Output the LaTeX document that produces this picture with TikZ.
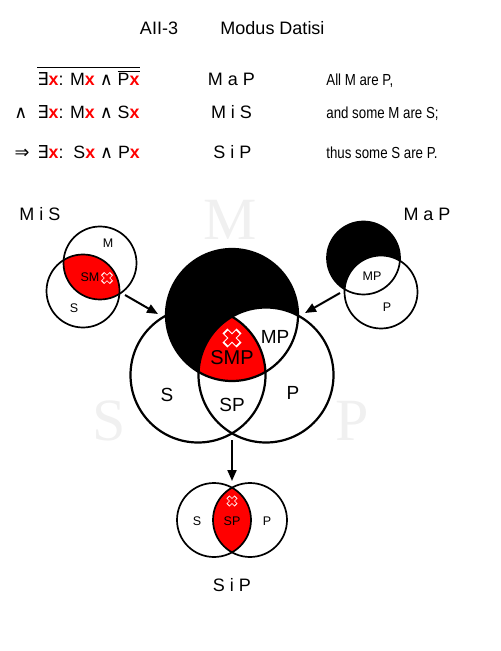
\documentclass[tikz,border=0pt]{standalone}
\usepackage{fontspec}
\setmainfont{Liberation Sans}
\newfontfamily\symfont{DejaVu Sans}
\newfontfamily\ghostfont{Liberation Serif}
\newfontfamily\narrowfont[FakeStretch=0.83]{Liberation Sans}
\usetikzlibrary{arrows.meta}
\pgfdeclarelayer{filllayer}
\pgfdeclarelayer{edgelayer}
\pgfdeclarelayer{nodelayer}
\pgfsetlayers{filllayer,main,edgelayer,nodelayer}
\newcommand{\rx}{\textcolor{red}{\textbf{x}}}
\tikzset{
	pics/crossmark/.style={code={
		\draw [white, line width=#1*0.37pt] (-0.74*#1,-0.74*#1) -- (0.74*#1,0.74*#1) (-0.74*#1,0.74*#1) -- (0.74*#1,-0.74*#1);
		\draw [red, line width=#1*0.25pt] (-0.6*#1,-0.6*#1) -- (0.6*#1,0.6*#1) (-0.6*#1,0.6*#1) -- (0.6*#1,-0.6*#1);
	}}
}

\begin{document}
\begin{tikzpicture}[x=0.5pt, y=-0.5pt, inner sep=0pt,
	venn/.style={draw, line width=0.85pt},
	bigvenn/.style={draw, line width=1.1pt},
	arrowline/.style={line width=1pt, -{Triangle[length=5.5pt,width=4.5pt]}},
	ghost/.style={font={\ghostfont\fontsize{30}{30}\selectfont}, text=black!6},
	head/.style={font={\fontsize{9}{11}\selectfont}},
	formula/.style={font={\fontsize{8.9}{10}\selectfont}, anchor=base west},
	sentence/.style={font={\narrowfont\fontsize{8}{10}\selectfont}, anchor=base west},
	biglabel/.style={font={\fontsize{9.5}{11}\selectfont}},
	smalllabel/.style={font={\fontsize{6.25}{8}\selectfont}}]
	\useasboundingbox (0,0) rectangle (500,651);
	\begin{pgfonlayer}{nodelayer}
		\node [] (0) at (100, 263) {};
		\node [] (1) at (83, 291) {};
		\node [] (2) at (363.5, 258) {};
		\node [] (3) at (381, 292) {};
		\node [] (4) at (232, 315) {};
		\node [] (5) at (198, 375) {};
		\node [] (6) at (266, 375) {};
		\node [] (7) at (214, 520) {};
		\node [] (8) at (250, 520) {};
		\node [] (9) at (125, 295) {};
		\node [] (10) at (158, 314) {};
		\node [] (11) at (340, 293) {};
		\node [] (12) at (305, 313) {};
		\node [] (13) at (232, 440) {};
		\node [] (14) at (232, 481) {};
		\node [] (15) at (107, 278) {};
		\node [] (16) at (232, 338) {};
		\node [] (17) at (232, 501) {};
		\node [head, anchor=base] (18) at (159, 35) {AII-3};
		\node [head, anchor=base] (19) at (272.5, 35) {Modus Datisi};
		\node [formula] (20) at (37, 86) {$\overline{\mbox{{\symfont ∃}\rx: M\rx{} {\symfont ∧} $\overline{\mbox{P\rx}}$}}$};
		\node [head, anchor=base] (21) at (231.5, 86) {M a P};
		\node [sentence] (22) at (326, 86) {All M are P,};
		\node [formula, anchor=base] (23) at (21, 119) {{\symfont ∧}};
		\node [formula] (24) at (37, 119) {{\symfont ∃}\rx: M\rx{} {\symfont ∧} S\rx};
		\node [head, anchor=base] (25) at (231.5, 119) {M i S};
		\node [sentence] (26) at (326, 119) {and some M are S;};
		\node [formula, anchor=base] (27) at (22, 159) {{\symfont ⇒}};
		\node [formula] (28) at (37, 159) {{\symfont ∃}\rx:\ \ S\rx{} {\symfont ∧} P\rx};
		\node [head, anchor=base] (29) at (232.5, 159) {S i P};
		\node [sentence] (30) at (326, 159) {thus some S are P.};
		\node [ghost] (31) at (230, 220) {M};
		\node [ghost] (32) at (109, 421) {S};
		\node [ghost] (33) at (352, 421) {P};
		\node [head] (34) at (40, 214) {M i S};
		\node [head] (35) at (427, 214) {M a P};
		\node [head] (36) at (232, 585) {S i P};
		\node [smalllabel] (37) at (108, 243) {M};
		\node [smalllabel] (38) at (90, 277) {SM};
		\node [smalllabel] (39) at (74, 308) {S};
		\node [smalllabel] (40) at (372, 276) {MP};
		\node [smalllabel] (41) at (387, 307) {P};
		\node [biglabel] (42) at (275, 337) {MP};
		\node [biglabel, font={\fontsize{10}{12}\selectfont}] (43) at (232, 358) {SMP};
		\node [biglabel] (44) at (167, 395) {S};
		\node [biglabel] (45) at (232, 405) {SP};
		\node [biglabel] (46) at (293, 393) {P};
		\node [smalllabel] (47) at (197, 521) {S};
		\node [smalllabel] (48) at (232, 521) {SP};
		\node [smalllabel] (49) at (267, 521) {P};
		\pic at (15.center) {crossmark=6};
		\pic at (16.center) {crossmark=9.5};
		\pic at (17.center) {crossmark=5.5};
	\end{pgfonlayer}
	\begin{pgfonlayer}{filllayer}
		\begin{scope}
			\clip (0.center) circle (36.5);
			\fill [red] (1.center) circle (36.5);
		\end{scope}
		\fill [black] (2.center) circle (36.5);
		\fill [white] (3.center) circle (36.5);
		\fill [black] (4.center) circle (66);
		\begin{scope}
			\clip (4.center) circle (66);
			\fill [white] (6.center) circle (67.5);
			\clip (6.center) circle (67.5);
			\fill [red] (5.center) circle (67.5);
		\end{scope}
		\begin{scope}
			\clip (7.center) circle (37);
			\fill [red] (8.center) circle (37);
		\end{scope}
	\end{pgfonlayer}
	\begin{pgfonlayer}{edgelayer}
		\draw [venn] (0.center) circle (36.5);
		\draw [venn] (1.center) circle (36.5);
		\draw [venn] (2.center) circle (36.5);
		\draw [venn] (3.center) circle (36.5);
		\draw [bigvenn] (4.center) circle (66);
		\draw [bigvenn] (5.center) circle (67.5);
		\draw [bigvenn] (6.center) circle (67.5);
		\draw [venn] (7.center) circle (37);
		\draw [venn] (8.center) circle (37);
		\draw [arrowline] (9.center) to (10.center);
		\draw [arrowline] (11.center) to (12.center);
		\draw [arrowline] (13.center) to (14.center);
	\end{pgfonlayer}
\end{tikzpicture}
\end{document}
